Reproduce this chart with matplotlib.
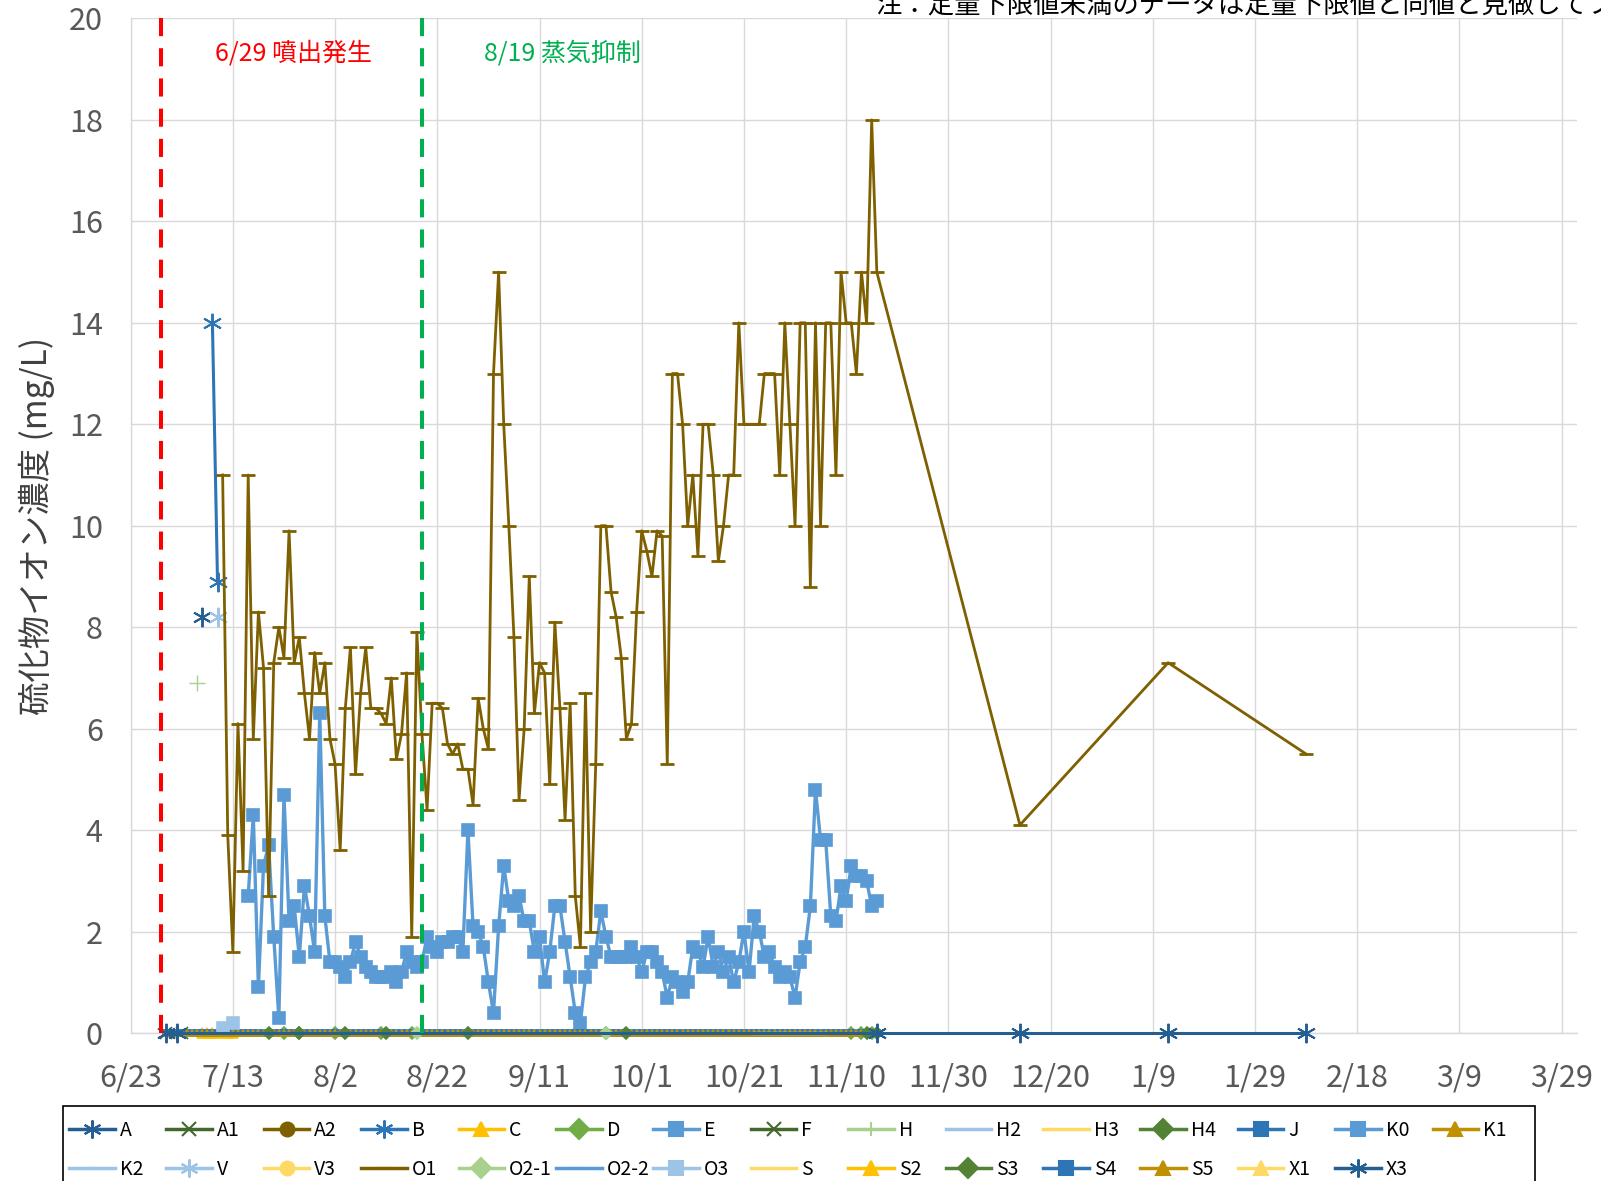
import matplotlib
matplotlib.use('Agg')
import matplotlib.pyplot as plt
from matplotlib.lines import Line2D
from matplotlib.patches import Rectangle

plt.rcParams['font.family'] = ['Noto Sans CJK JP', 'DejaVu Sans']

# x values are day offsets counted from 2015-06-23 (first x tick)
x_ticks = [0, 20, 40, 60, 80, 100, 120, 140, 160, 180, 200, 220, 240, 260, 280]
x_tick_labels = ['6/23', '7/13', '8/2', '8/22', '9/11', '10/1', '10/21', '11/10',
                 '11/30', '12/20', '1/9', '1/29', '2/18', '3/9', '3/29']
y_ticks = [0, 2, 4, 6, 8, 10, 12, 14, 16, 18, 20]
X_MAX = 283

eruption_day = 6     # 6/29
steam_day = 57       # 8/19
eruption_label = '6/29 噴出発生'
steam_label = '8/19 蒸気抑制'
note_text = '注：定量下限値未満のデータは定量下限値と同値と見做してプロット'
y_label = '硫化物イオン濃度 (mg/L)'

# O1 (brown)
o1_day = list(range(18, 122)) + list(range(123, 147)) + [174, 203, 230]
o1_val = [11.0, 3.9, 1.6, 6.1, 3.2, 11.0, 5.8, 8.3, 7.2, 2.7,
          7.3, 8.0, 7.4, 9.9, 7.3, 7.8, 6.7, 5.8, 7.5, 6.7,
          7.3, 5.8, 5.3, 3.6, 6.4, 7.6, 5.1, 6.7, 7.6, 6.4,
          6.4, 6.3, 6.1, 7.0, 5.4, 5.9, 7.1, 1.9, 7.9, 5.9,
          4.4, 6.5, 6.5, 6.4, 5.7, 5.5, 5.7, 5.2, 5.2, 4.5,
          6.6, 6.0, 5.6, 13.0, 15.0, 12.0, 10.0, 7.8, 4.6, 6.0,
          9.0, 6.3, 7.3, 7.1, 4.9, 8.1, 6.4, 4.2, 6.5, 2.7,
          1.7, 6.7, 2.0, 5.3, 10.0, 10.0, 8.7, 8.2, 7.4, 5.8,
          6.1, 8.3, 9.9, 9.5, 9.0, 9.9, 9.8, 5.3, 13.0, 13.0,
          12.0, 10.0, 11.0, 9.4, 12.0, 12.0, 11.0, 9.3, 10.0, 11.0,
          11.0, 14.0, 12.0, 12.0,
          12.0, 13.0, 13.0, 13.0, 11.0, 14.0, 12.0, 10.0, 14.0, 14.0,
          8.8, 14.0, 10.0, 14.0, 14.0, 11.0, 15.0, 14.0, 14.0, 13.0,
          15.0, 14.0, 18.0, 15.0,
          4.1, 7.3, 5.5]

# E (light blue squares)
e_day = list(range(23, 147))
e_val = [2.7, 4.3, 0.9, 3.3, 3.7, 1.9, 0.3, 4.7, 2.2, 2.5,
         1.5, 2.9, 2.3, 1.6, 6.3, 2.3, 1.4, 1.4, 1.3, 1.1,
         1.4, 1.8, 1.5, 1.3, 1.2, 1.1, 1.1, 1.1, 1.2, 1.0,
         1.2, 1.6, 1.4, 1.3, 1.4, 1.9, 1.7, 1.6, 1.8, 1.8,
         1.9, 1.9, 1.6, 4.0, 2.1, 2.0, 1.7, 1.0, 0.4, 2.1,
         3.3, 2.6, 2.5, 2.7, 2.2, 2.2, 1.6, 1.9, 1.0, 1.6,
         2.5, 2.5, 1.8, 1.1, 0.4, 0.2, 1.1, 1.4, 1.6, 2.4,
         1.9, 1.5, 1.5, 1.5, 1.5, 1.7, 1.5, 1.2, 1.6, 1.6,
         1.4, 1.2, 0.7, 1.1, 1.0, 0.8, 1.0, 1.7, 1.6, 1.3,
         1.9, 1.3, 1.6, 1.2, 1.5, 1.0, 1.4, 2.0, 1.2, 2.3,
         2.0, 1.5, 1.6, 1.3, 1.1, 1.2, 1.1, 0.7, 1.4, 1.7,
         2.5, 4.8, 3.8, 3.8, 2.3, 2.2, 2.9, 2.6, 3.3, 3.1,
         3.1, 3.0, 2.5, 2.6]

# single early readings
a_day, a_val = [14], [8.2]
b_day, b_val = [16, 17], [14.0, 8.9]
h_day, h_val = [13], [6.9]
v_day, v_val = [17], [8.2]
o3_day, o3_val = [18, 20], [0.1, 0.2]

# sites below the quantification limit (plotted at 0)
zero_day = list(range(7, 147))
a1_day = [7, 10]
c_day = [14, 15, 16, 17, 19, 20]
d_day = [30, 33, 40, 49, 55, 93, 141, 143, 145]
h2_day = [122, 136]
o21_day = [56, 93]
s3_day = [27, 33, 42, 50, 66, 97, 144, 146]
x3_day = [7, 9, 146, 174, 203, 230]

AST = (6, 2, 0)
styles = {
    'A': ('#255E91', AST), 'A1': ('#43682B', 'x'), 'A2': ('#7F6000', 'o'),
    'B': ('#2E75B6', AST), 'C': ('#FFC000', '^'), 'D': ('#70AD47', 'D'),
    'E': ('#5B9BD5', 's'), 'F': ('#43682B', 'x'), 'H': ('#A9D18E', '+'),
    'H2': ('#9DC3E6', None), 'H3': ('#FFD966', None), 'H4': ('#548235', 'D'),
    'J': ('#2E75B6', 's'), 'K0': ('#5B9BD5', 's'), 'K1': ('#BF9000', '^'),
    'K2': ('#9DC3E6', '_'), 'V': ('#9DC3E6', AST), 'V3': ('#FFD966', 'o'),
    'O1': ('#7F6000', '_'), 'O2-1': ('#A9D18E', 'D'), 'O2-2': ('#5B9BD5', '_'),
    'O3': ('#9DC3E6', 's'), 'S': ('#FFD966', '_'), 'S2': ('#FFC000', '^'),
    'S3': ('#548235', 'D'), 'S4': ('#2E75B6', 's'), 'S5': ('#BF9000', '^'),
    'X1': ('#FFD966', '^'), 'X3': ('#255E91', AST),
}
legend_order = ['A', 'A1', 'A2', 'B', 'C', 'D', 'E', 'F', 'H', 'H2', 'H3', 'H4',
                'J', 'K0', 'K1', 'K2', 'V', 'V3', 'O1', 'O2-1', 'O2-2', 'O3',
                'S', 'S2', 'S3', 'S4', 'S5', 'X1', 'X3']

fig = plt.figure(figsize=(16.01, 11.81), dpi=100)
ax = fig.add_axes([0.0816, 0.1253, 0.9034, 0.8591])


def draw(name, days, vals, ms=5, lw=2.0, mew=1.2, z=3):
    color, marker = styles[name]
    ax.plot(days, vals, color=color, marker=marker, ms=ms, lw=lw, mew=mew,
            mfc=color, mec=color, clip_on=False, zorder=z)


zeros = lambda d: [0.0] * len(d)

draw('A', a_day, a_val, ms=14, mew=1.4)
draw('A1', a1_day, zeros(a1_day), ms=8)
draw('B', b_day, b_val, ms=14, lw=2.2, mew=1.4)
draw('C', c_day, zeros(c_day), ms=7)
draw('D', d_day, zeros(d_day), ms=6)
draw('E', e_day, e_val, ms=8.5, lw=2.4, z=4)
draw('H', h_day, h_val, ms=11, mew=1.0)
draw('H2', h2_day, zeros(h2_day), lw=2.5, z=5)
draw('J', zero_day, zeros(zero_day), ms=4, lw=3.0, z=4)
draw('K1', zero_day, zeros(zero_day), ms=4.5, lw=0.5, z=4.5)
draw('V', v_day, v_val, ms=14, mew=1.4)
draw('O1', o1_day, o1_val, ms=10, lw=2.0, mew=2.0, z=5)
draw('O2-1', o21_day, zeros(o21_day), ms=6, z=5)
draw('O3', o3_day, o3_val, ms=8, z=5)
draw('S3', s3_day, zeros(s3_day), ms=6, z=5)
draw('X3', x3_day, zeros(x3_day), ms=14, lw=2.2, mew=1.4, z=6)

# event lines
ax.axvline(eruption_day, color='#FF0000', lw=2.9, dashes=(4.5, 3), zorder=7)
ax.axvline(steam_day, color='#00B050', lw=2.9, dashes=(4.5, 3), zorder=7)
ax.text(31.8, 19.3, eruption_label, color='#FF0000', fontsize=18,
        ha='center', va='center')
ax.text(84.4, 19.3, steam_label, color='#00B050', fontsize=18,
        ha='center', va='center')

ax.set_xlim(0, X_MAX)
ax.set_ylim(0, 20)
ax.set_xticks(x_ticks)
ax.set_xticklabels(x_tick_labels)
ax.set_yticks(y_ticks)
ax.grid(True, color='#D9D9D9', lw=1.0, zorder=0)
ax.set_axisbelow(True)
ax.tick_params(length=0, labelsize=22, colors='#595959')
ax.tick_params(axis='x', pad=21)
ax.tick_params(axis='y', pad=20)
for side in ['top', 'right']:
    ax.spines[side].set_visible(False)
for side in ['left', 'bottom']:
    ax.spines[side].set_color('#D9D9D9')
    ax.spines[side].set_linewidth(1.0)

ax.set_ylabel(y_label, fontsize=24, color='#404040')
ax.yaxis.set_label_coords(-0.052, 0.5)

fig.text(0.5465, 1 - 13 / 1181, note_text, fontsize=19, ha='left',
         va='baseline', color='black')

# legend: Excel style grid of 15 equal columns, two rows
proxies = {}
for name in legend_order:
    color, marker = styles[name]
    small = name in ('K2', 'O2-2', 'S')
    big = marker == AST
    proxies[name] = Line2D([0], [0], color=color, lw=2.5, marker=marker,
                           ms=6 if small else (13 if big else 10), mew=1.5,
                           mfc=color, mec=color)
n_cols = 15
col_w = 97.4 / 1601
x0 = 69 / 1601
for i in range(n_cols):
    names = legend_order[i::n_cols]
    fig.legend([proxies[n] for n in names], names, loc='upper left',
               bbox_to_anchor=(x0 + i * col_w, 1 - 1120 / 1181),
               frameon=False, fontsize=14, handlelength=2.35,
               handletextpad=0.25, borderpad=0, borderaxespad=0,
               labelspacing=0.93, numpoints=1)
fig.patches.append(Rectangle((63 / 1601, -0.02), (1535 - 63) / 1601,
                             0.02 + 1 - 1106 / 1181, transform=fig.transFigure,
                             fill=False, edgecolor='black', lw=1.2))

fig.savefig('out.png', dpi=100)
